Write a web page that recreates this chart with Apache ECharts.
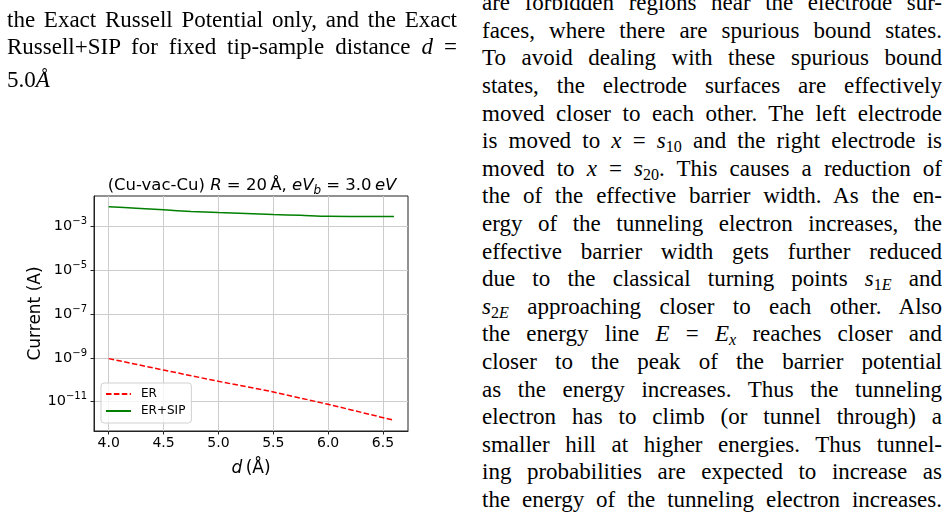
<!DOCTYPE html>
<html>
<head>
<meta charset="utf-8">
<script src="https://cdn.jsdelivr.net/npm/echarts@6/dist/echarts.min.js"></script>
<style>
html, body { margin: 0; padding: 0; background: #fff; }
#page { position: relative; width: 946px; height: 512px; overflow: hidden; background: #fff; }
#main { position: absolute; left: 0; top: 0; width: 470px; height: 512px; }
.ln { position: absolute; font-family: 'Liberation Serif', serif; font-size: 23px; line-height: 27.6px; color: #000;
      text-align: justify; text-align-last: justify; }
.ln.last { text-align: left; text-align-last: left; }
.ln sub { font-size: 70%; vertical-align: -0.25em; line-height: 0; }
.left { left: 7px; width: 450px; }
.right { left: 482px; width: 460px; }
</style>
</head>
<body>
<div id="page">
  <div id="main"></div>

  <div class="ln left" style="top:6px">the Exact Russell Potential only, and the Exact</div>
  <div class="ln left" style="top:33.4px">Russell+SIP for fixed tip-sample distance <i>d</i> =</div>
  <div class="ln left last" style="top:65.7px">5.0<i>Å</i></div>

  <div id="rcol"></div>
</div>

<script>
// d (Angstrom) and current (A)
var distER = [4.0, 4.5, 5.0, 5.5, 6.0, 6.6];
var currentER = [9.3e-10, 2.8e-10, 8.5e-11, 2.8e-11, 7.6e-12, 1.41e-12];

var distSIP = [4.0, 4.25, 4.5, 4.75, 5.0, 5.25, 5.5, 5.75, 6.0, 6.3, 6.6];
var currentSIP = [8.2e-3, 7.0e-3, 5.9e-3, 5.0e-3, 4.4e-3, 4.0e-3, 3.6e-3, 3.3e-3, 3.0e-3, 2.95e-3, 2.95e-3];

var xTicks = [4.0, 4.5, 5.0, 5.5, 6.0, 6.5];
var yTickExp = [-11, -9, -7, -5, -3];

// right column text lines
var rightLines = [
    'are forbidden regions near the electrode sur-',
    'faces, where there are spurious bound states.',
    'To avoid dealing with these spurious bound',
    'states, the electrode surfaces are effectively',
    'moved closer to each other. The left electrode',
    'is moved to <i>x</i> = <i>s</i><sub>10</sub> and the right electrode is',
    'moved to <i>x</i> = <i>s</i><sub>20</sub>. This causes a reduction of',
    'the of the effective barrier width. As the en-',
    'ergy of the tunneling electron increases, the',
    'effective barrier width gets further reduced',
    'due to the classical turning points <i>s</i><sub>1<i>E</i></sub> and',
    '<i>s</i><sub>2<i>E</i></sub> approaching closer to each other. Also',
    'the energy line <i>E</i> = <i>E<sub>x</sub></i> reaches closer and',
    'closer to the peak of the barrier potential',
    'as the energy increases. Thus the tunneling',
    'electron has to climb (or tunnel through) a',
    'smaller hill at higher energies. Thus tunnel-',
    'ing probabilities are expected to increase as',
    'the energy of the tunneling electron increases.'
];

var rcol = document.getElementById('rcol');
var html = '';
for (var i = 0; i < rightLines.length; i++) {
    html += '<div class="ln right" style="top:' + (-10.8 + i * 27.6) + 'px">' + rightLines[i] + '</div>';
}
rcol.innerHTML = html;

var font = 'DejaVu Sans';

function pairs(xs, ys) {
    return xs.map(function (x, i) { return [x, Math.log10(ys[i])]; });
}

var myChart = echarts.init(document.getElementById('main'));

var option = {
    animation: false,
    textStyle: { fontFamily: font },
    title: {
        text: '{a|(Cu-vac-Cu) }{i|R}{a| = 20\u2009Å, }{i|eV}{s|b}{a| = 3.0\u2009}{i|eV}',
        left: 252,
        top: 175,
        textAlign: 'center',
        padding: 0,
        textStyle: {
            fontWeight: 'normal',
            fontSize: 17,
            rich: {
                a: { fontFamily: font, fontSize: 16.5, fontWeight: 'normal', color: '#000', lineHeight: 22 },
                i: { fontFamily: font, fontSize: 16.5, fontWeight: 'normal', fontStyle: 'italic', color: '#000', lineHeight: 22 },
                s: { fontFamily: font, fontSize: 12, fontWeight: 'normal', fontStyle: 'italic', color: '#000', lineHeight: 22, verticalAlign: 'bottom' }
            }
        }
    },
    legend: {
        orient: 'vertical',
        left: 101,
        top: 383,
        padding: [5, 6, 6, 4],
        itemWidth: 25,
        itemHeight: 14,
        itemGap: 5,
        borderColor: '#d0d0d0',
        borderWidth: 1,
        borderRadius: 3,
        backgroundColor: 'rgba(255,255,255,0.8)',
        itemStyle: { opacity: 0 },
        textStyle: { fontFamily: font, fontSize: 12, color: '#000', padding: [0, 0, 0, 5] },
        data: ['ER', 'ER+SIP']
    },
    grid: {
        left: 94,
        top: 196,
        width: 314,
        height: 235,
        show: true,
        borderColor: '#222',
        borderWidth: 1,
        backgroundColor: 'transparent',
        containLabel: false,
        outerBoundsMode: 'none'
    },
    xAxis: {
        type: 'value',
        min: 3.866,
        max: 6.728,
        name: '{i|d}{a|\u2009(Å)}',
        nameLocation: 'middle',
        nameGap: 29,
        nameTextStyle: {
            fontSize: 17,
            rich: {
                a: { fontFamily: font, fontSize: 17, color: '#000' },
                i: { fontFamily: font, fontSize: 17, fontStyle: 'italic', color: '#000' }
            }
        },
        axisLine: { show: true, onZero: false, lineStyle: { color: '#222', width: 1 } },
        axisTick: { show: true, inside: false, length: 3.5, customValues: xTicks, lineStyle: { color: '#222' } },
        axisLabel: {
            customValues: xTicks,
            margin: 5,
            fontFamily: font,
            fontSize: 14,
            color: '#000',
            formatter: function (v) { return v.toFixed(1); }
        },
        splitLine: { show: true, lineStyle: { color: '#cccccc', width: 1 } }
    },
    yAxis: {
        type: 'value',
        min: -12.34,
        max: -1.597,
        name: 'Current (A)',
        nameLocation: 'middle',
        nameGap: 50,
        nameRotate: 90,
        nameMoveOverlap: false,
        nameTextStyle: { fontFamily: font, fontSize: 17, color: '#000' },
        axisLine: { show: true, lineStyle: { color: '#222', width: 1 } },
        axisTick: { show: true, inside: false, length: 3.5, customValues: yTickExp, lineStyle: { color: '#222' } },
        axisLabel: {
            customValues: yTickExp,
            margin: 7,
            fontFamily: font,
            fontSize: 14,
            color: '#000',
            formatter: function (v) {
                return '{b|10}{e|' + (v < 0 ? '\u2212' : '') + Math.abs(v) + '}';
            },
            rich: {
                b: { fontFamily: font, fontSize: 14.5, color: '#000', lineHeight: 20 },
                e: { fontFamily: font, fontSize: 10, color: '#000', lineHeight: 20, verticalAlign: 'top' }
            }
        },
        splitLine: { show: true, lineStyle: { color: '#cccccc', width: 1 } }
    },
    series: [
        {
            name: 'ER',
            type: 'line',
            symbol: 'none',
            data: pairs(distER, currentER),
            lineStyle: { color: '#ff0000', width: 1.5, type: [5.5, 2.4] },
            itemStyle: { color: '#ff0000' }
        },
        {
            name: 'ER+SIP',
            type: 'line',
            symbol: 'none',
            smooth: 0.3,
            data: pairs(distSIP, currentSIP),
            lineStyle: { color: '#008000', width: 1.5 },
            itemStyle: { color: '#008000' }
        }
    ]
};
myChart.setOption(option);
</script>
</body>
</html>
